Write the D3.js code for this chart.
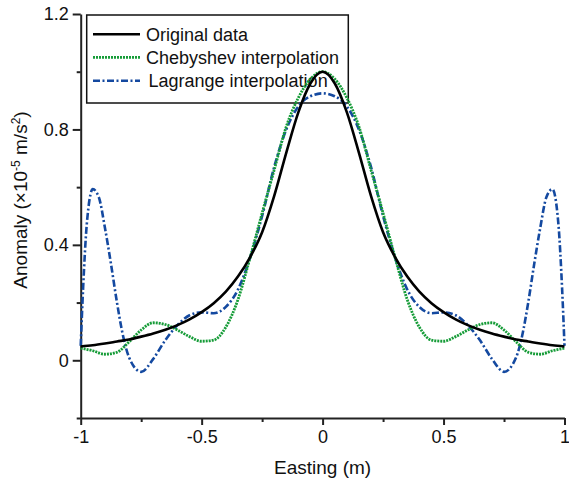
<!DOCTYPE html>
<html>
  <head>
    <meta charset="utf-8">
    <title>Interpolation comparison</title>
    <style type="text/css">
body { margin: 0; background: #fff; }
#chart text { font-family: "Liberation Sans", Arial, sans-serif; fill: #111; }
.axis path, .axis line { stroke: #222; stroke-width: 2; }
    </style>
    <script type="text/javascript" src="https://cdn.jsdelivr.net/npm/d3@7"></script>
  </head>
  <body>
    <div id="chart"></div>
    <script type="text/javascript">
      // values
      var seriesNames = ["Original data", "Chebyshev interpolation", "Lagrange interpolation"];

      var gridX = [-1, -0.95, -0.9, -0.85, -0.8, -0.75, -0.7, -0.65, -0.6, -0.55, -0.5,
                   -0.45, -0.4, -0.35, -0.3, -0.25, -0.2, -0.15, -0.1, -0.05, 0,
                   0.05, 0.1, 0.15, 0.2, 0.25, 0.3, 0.35, 0.4, 0.45, 0.5,
                   0.55, 0.6, 0.65, 0.7, 0.75, 0.8, 0.85, 0.9, 0.95, 1];

      var originalY = [0.048, 0.052, 0.058, 0.065, 0.072, 0.082, 0.093, 0.106, 0.122, 0.142, 0.167,
                       0.198, 0.238, 0.29, 0.357, 0.444, 0.57, 0.72, 0.86, 0.96, 1.0,
                       0.96, 0.86, 0.72, 0.57, 0.444, 0.357, 0.29, 0.238, 0.198, 0.167,
                       0.142, 0.122, 0.106, 0.093, 0.082, 0.072, 0.065, 0.058, 0.052, 0.048];

      var chebyshevY = [0.042, 0.033, 0.021, 0.028, 0.064, 0.105, 0.13, 0.124, 0.105, 0.082, 0.066,
                        0.07, 0.115, 0.21, 0.355, 0.51, 0.66, 0.81, 0.91, 0.975, 1.0,
                        0.975, 0.91, 0.81, 0.66, 0.51, 0.355, 0.21, 0.115, 0.07, 0.066,
                        0.082, 0.105, 0.124, 0.13, 0.105, 0.064, 0.028, 0.021, 0.033, 0.042];

      var lagrangeX = [-1, -0.99, -0.975, -0.95, -0.925, -0.9, -0.875, -0.85, -0.825, -0.8, -0.75,
                       -0.7, -0.65, -0.6, -0.55, -0.5, -0.45, -0.4, -0.35, -0.3, -0.25,
                       -0.2, -0.15, -0.1, -0.05, 0,
                       0.05, 0.1, 0.15, 0.2, 0.25, 0.3, 0.35, 0.4, 0.45, 0.5,
                       0.55, 0.6, 0.65, 0.7, 0.75, 0.8, 0.825, 0.85, 0.875, 0.9,
                       0.925, 0.95, 0.975, 0.99, 1];

      var lagrangeY = [0.05, 0.25, 0.47, 0.593, 0.565, 0.46, 0.335, 0.2, 0.085, 0.01, -0.04,
                       0.005, 0.07, 0.122, 0.156, 0.166, 0.163, 0.185, 0.245, 0.355, 0.5,
                       0.67, 0.8, 0.88, 0.915, 0.925,
                       0.915, 0.88, 0.8, 0.67, 0.5, 0.355, 0.245, 0.185, 0.163, 0.166,
                       0.156, 0.122, 0.07, 0.005, -0.04, 0.01, 0.085, 0.2, 0.335, 0.46,
                       0.565, 0.593, 0.47, 0.25, 0.05];

      var xTicks = [-1, -0.5, 0, 0.5, 1];
      var xTickLabels = ["-1", "-0.5", "0", "0.5", "1"];
      var xMinorTicks = [-0.75, -0.25, 0.25, 0.75];
      var yTicks = [0, 0.4, 0.8, 1.2];
      var yTickLabels = ["0", "0.4", "0.8", "1.2"];
      var yMinorTicks = [-0.2, 0.2, 0.6, 1.0];

      function draw() {
        var w = 569, h = 483;
        var svg = d3.select("#chart").append("svg")
             .attr("width", w)
             .attr("height", h);

        var x = d3.scaleLinear().domain([-1, 1]).range([80.7, 564.5]);
        var y = d3.scaleLinear().domain([-0.2, 1.2]).range([418, 14]);

        // axes
        var gx = svg.append("g").attr("class", "axis")
             .attr("transform", "translate(0," + y(-0.2) + ")");
        gx.call(d3.axisBottom(x).tickValues(xTicks)
             .tickFormat(function(d, i) { return xTickLabels[i]; })
             .tickSize(7).tickSizeOuter(0).tickPadding(5));
        gx.append("g").call(d3.axisBottom(x).tickValues(xMinorTicks)
             .tickFormat("").tickSize(4).tickSizeOuter(0))
          .select(".domain").remove();

        var gy = svg.append("g").attr("class", "axis")
             .attr("transform", "translate(" + x(-1) + ",0)");
        gy.call(d3.axisLeft(y).tickValues(yTicks)
             .tickFormat(function(d, i) { return yTickLabels[i]; })
             .tickSize(8).tickSizeOuter(0).tickPadding(4));
        gy.append("g").call(d3.axisLeft(y).tickValues(yMinorTicks)
             .tickFormat("").tickSize(4).tickSizeOuter(0))
          .select(".domain").remove();

        svg.selectAll(".axis text")
             .style("font-size", "18px")
             .attr("fill", "#111");

        // axis titles
        svg.append("text")
             .attr("x", x(0))
             .attr("y", 474)
             .attr("text-anchor", "middle")
             .style("font-size", "19px")
             .text("Easting (m)");

        var yl = svg.append("text")
             .attr("transform", "translate(27,200) rotate(-90)")
             .attr("text-anchor", "middle")
             .style("font-size", "19px");
        yl.append("tspan").text("Anomaly (\u00d710");
        yl.append("tspan").attr("dy", -7).style("font-size", "12px").text("-5");
        yl.append("tspan").attr("dy", 7).text(" m/s");
        yl.append("tspan").attr("dy", -7).style("font-size", "12px").text("2");
        yl.append("tspan").attr("dy", 7).text(")");

        // legend (sits under the curves)
        var styles = [
          { color: "#000000", dash: null, width: 2.6 },
          { color: "#169c38", dash: "2,1", width: 2.8 },
          { color: "#1449a0", dash: "7,2.5,2,2.5", width: 2.6 }
        ];
        svg.append("rect")
             .attr("x", 86.7).attr("y", 15)
             .attr("width", 261.6).attr("height", 88)
             .attr("fill", "#fff")
             .attr("stroke", "#111")
             .attr("stroke-width", 1.5);
        var rowY = [34.3, 57.3, 80.7];
        var lg = svg.selectAll(".legend")
             .data(seriesNames)
             .enter().append("g")
             .attr("class", "legend")
             .attr("transform", function(d, i) { return "translate(0," + rowY[i] + ")"; });
        lg.append("line")
             .attr("x1", 93).attr("x2", 140)
             .attr("stroke", function(d, i) { return styles[i].color; })
             .attr("stroke-width", function(d, i) { return styles[i].width; })
             .attr("stroke-dasharray", function(d, i) { return styles[i].dash; });
        lg.append("text")
             .attr("x", function(d, i) { return i == 2 ? 148.5 : 146; })
             .attr("dy", 6.3)
             .style("font-size", "18px")
             .text(function(d) { return d; });

        // curves
        var series = [
          { xs: gridX, ys: originalY },
          { xs: gridX, ys: chebyshevY },
          { xs: lagrangeX, ys: lagrangeY }
        ];
        var line = d3.line()
             .x(function(d) { return x(d[0]); })
             .y(function(d) { return y(d[1]); })
             .curve(d3.curveMonotoneX);

        [2, 1, 0].forEach(function(i) {
          var s = series[i];
          svg.append("path")
               .datum(d3.zip(s.xs, s.ys))
               .attr("fill", "none")
               .attr("stroke", styles[i].color)
               .attr("stroke-width", styles[i].width)
               .attr("stroke-dasharray", styles[i].dash)
               .attr("stroke-linejoin", "round")
               .attr("d", line);
        });
      }

      draw();
    </script>
  </body>
</html>
